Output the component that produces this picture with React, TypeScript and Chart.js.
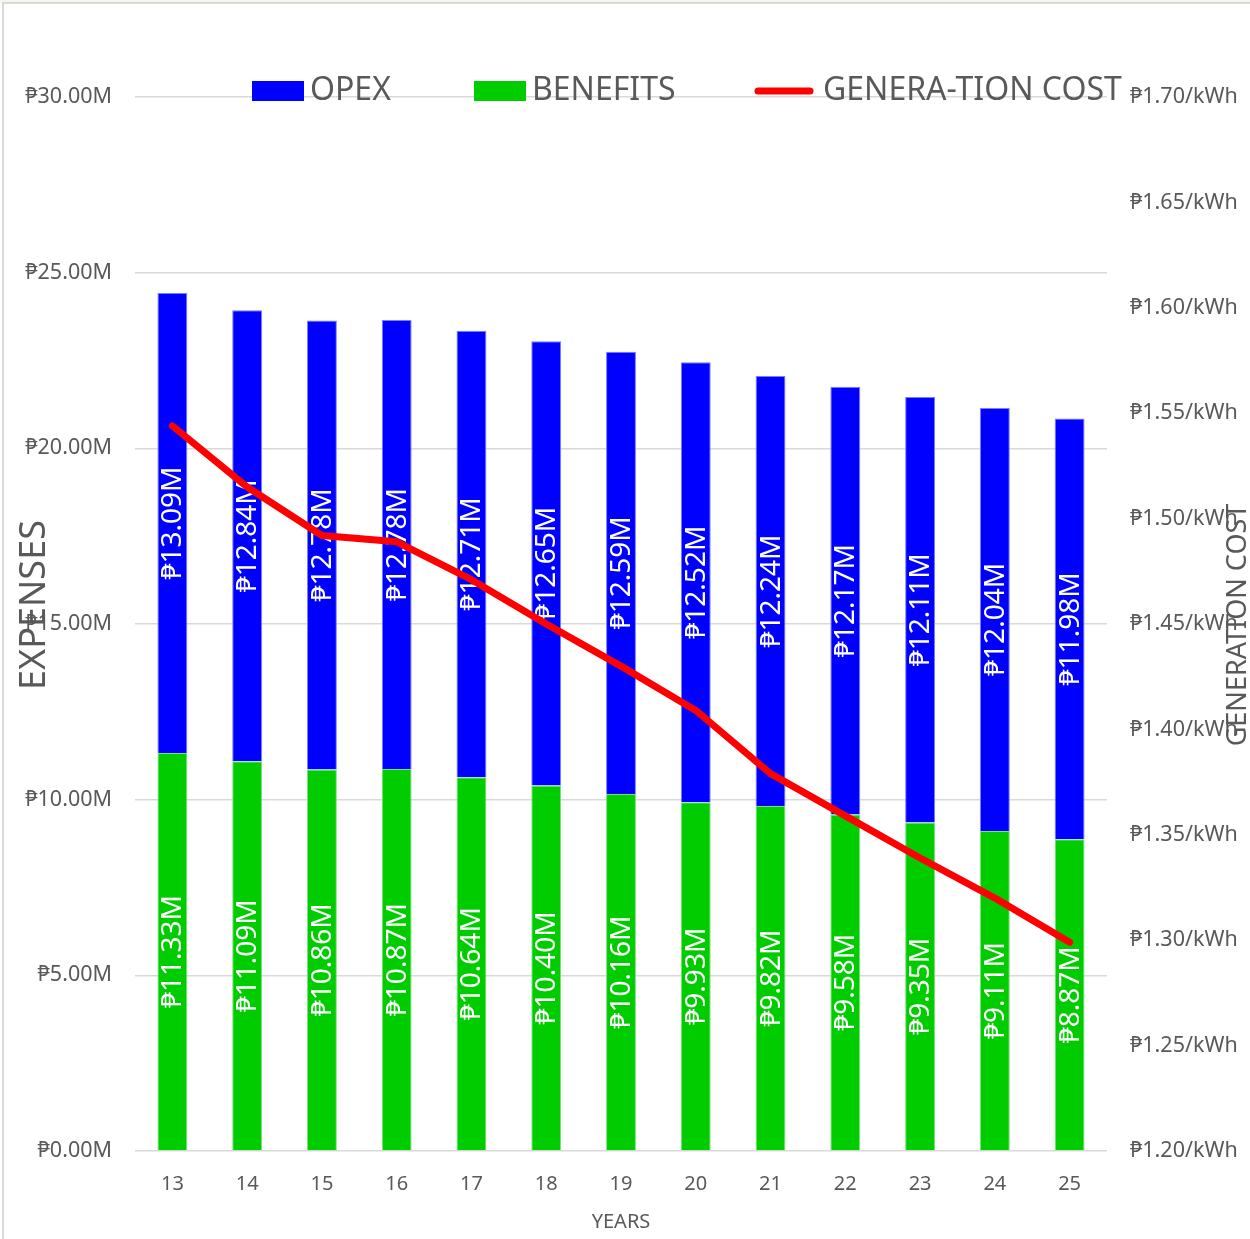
import React, { useEffect, useRef } from "react";
import { Chart, registerables } from "chart.js";

Chart.register(...registerables);

const years = ["13", "14", "15", "16", "17", "18", "19", "20", "21", "22", "23", "24", "25"];
const opex = [13.09, 12.84, 12.78, 12.78, 12.71, 12.65, 12.59, 12.52, 12.24, 12.17, 12.11, 12.04, 11.98];
const benefits = [11.33, 11.09, 10.86, 10.87, 10.64, 10.4, 10.16, 9.93, 9.82, 9.58, 9.35, 9.11, 8.87];
const generationCost = [1.544, 1.515, 1.492, 1.489, 1.471, 1.45, 1.43, 1.409, 1.379, 1.359, 1.339, 1.32, 1.299];

const FONT = "'Noto Sans', 'DejaVu Sans', sans-serif";
const GREY = "#595959";

const fmtM = (v: number) => "\u20B1" + v.toFixed(2) + "M";
const fmtKwh = (v: number) => "\u20B1" + v.toFixed(2) + "/kWh";

export default function App() {
  const ref = useRef<HTMLCanvasElement | null>(null);

  useEffect(() => {
    if (!ref.current) return;

    const decor = {
      id: "decor",
      beforeDraw(chart: any) {
        const ctx = chart.ctx;
        ctx.save();
        ctx.fillStyle = "#ffffff";
        ctx.fillRect(0, 0, chart.width, chart.height);
        ctx.fillStyle = "#f7f5ee";
        ctx.fillRect(0, 0, chart.width, 3);
        ctx.strokeStyle = "#d9d9d9";
        ctx.lineWidth = 2;
        ctx.beginPath();
        ctx.moveTo(3, chart.height);
        ctx.lineTo(3, 3);
        ctx.lineTo(chart.width, 3);
        ctx.stroke();
        ctx.restore();
      },
      afterDatasetDraw(chart: any, args: any) {
        const ds = chart.data.datasets[args.index];
        if (ds.type === "line") return;
        const ctx = chart.ctx;
        ctx.save();
        ctx.fillStyle = "#ffffff";
        ctx.font = "28px " + FONT;
        ctx.textAlign = "center";
        ctx.textBaseline = "middle";
        args.meta.data.forEach((el: any, i: number) => {
          const cy = (el.y + el.base) / 2;
          ctx.save();
          ctx.translate(el.x, cy);
          ctx.rotate(-Math.PI / 2);
          ctx.fillText(fmtM(ds.data[i]), 0, 1);
          ctx.restore();
        });
        ctx.restore();
      },
      afterDraw(chart: any) {
        const ctx = chart.ctx;
        const ca = chart.chartArea;
        ctx.save();
        ctx.fillStyle = GREY;
        ctx.textBaseline = "middle";
        // axis titles
        ctx.textAlign = "center";
        ctx.font = "36px " + FONT;
        ctx.save();
        ctx.translate(35, 605);
        ctx.rotate(-Math.PI / 2);
        ctx.fillText("EXPENSES", 0, 0);
        ctx.restore();
        ctx.font = "27px " + FONT;
        ctx.save();
        ctx.translate(1238, 625);
        ctx.rotate(-Math.PI / 2);
        ctx.fillText("GENERATION COST", 0, 0);
        ctx.restore();
        ctx.font = "20px " + FONT;
        ctx.fillText("YEARS", (ca.left + ca.right) / 2, 1222);
        // legend
        const ds = chart.data.datasets;
        const byLabel = (l: string) => ds.find((d: any) => d.label === l);
        const items = [
          { d: byLabel("OPEX"), x: 252 },
          { d: byLabel("BENEFITS"), x: 474 },
          { d: byLabel("GENERA-TION COST"), x: 755 },
        ];
        ctx.font = "32px " + FONT;
        ctx.textAlign = "left";
        items.forEach((it) => {
          if (it.d.type === "line") {
            ctx.strokeStyle = it.d.borderColor;
            ctx.lineWidth = 7;
            ctx.lineCap = "round";
            ctx.beginPath();
            ctx.moveTo(it.x + 3, 91);
            ctx.lineTo(it.x + 55, 91);
            ctx.stroke();
            ctx.fillStyle = GREY;
            ctx.fillText(it.d.label, it.x + 68, 91);
          } else {
            ctx.fillStyle = it.d.backgroundColor;
            ctx.fillRect(it.x, 81, 52, 20);
            ctx.fillStyle = GREY;
            ctx.fillText(it.d.label, it.x + 58, 91);
          }
        });
        ctx.restore();
      },
    };

    const chart = new Chart(ref.current, {
      type: "bar",
      data: {
        labels: years,
        datasets: [
          {
            type: "bar",
            label: "OPEX",
            data: opex,
            backgroundColor: "#0000ff",
            borderColor: "#7d7dff",
            borderWidth: 1,
            order: 2,
            yAxisID: "y",
          },
          {
            type: "bar",
            label: "BENEFITS",
            data: benefits,
            backgroundColor: "#00cc00",
            borderColor: "#7fe07f",
            borderWidth: 1,
            order: 1,
            yAxisID: "y",
          },
          {
            type: "line",
            label: "GENERA-TION COST",
            data: generationCost,
            borderColor: "#ff0000",
            borderWidth: 7,
            pointRadius: 0,
            borderCapStyle: "round",
            borderJoinStyle: "round",
            tension: 0,
            order: 0,
            yAxisID: "y1",
          },
        ] as any,
      },
      options: {
        responsive: false,
        animation: false,
        devicePixelRatio: 1,
        layout: { padding: { top: 97, left: 0, right: 0, bottom: 0 } },
        plugins: {
          legend: { display: false },
          tooltip: { enabled: false },
          title: { display: false },
        },
        datasets: {
          bar: { barPercentage: 0.4, categoryPercentage: 1 },
        },
        scales: {
          x: {
            stacked: true,
            grid: { display: false },
            border: { display: false },
            ticks: { color: GREY, font: { family: FONT, size: 20 }, padding: 13, maxRotation: 0 },
            afterFit(scale: any) {
              scale.height = 88;
            },
          },
          y: {
            stacked: true,
            position: "left",
            min: 0,
            max: 30,
            grid: { color: "#d9d9d9", lineWidth: 1.5, drawTicks: false },
            border: { display: false },
            ticks: {
              stepSize: 5,
              color: GREY,
              font: { family: FONT, size: 21.5 },
              padding: 23,
              callback: (v: any) => fmtM(Number(v)),
            },
            afterFit(scale: any) {
              scale.width = 135;
            },
          },
          y1: {
            position: "right",
            min: 1.2,
            max: 1.7,
            grid: { display: false, drawTicks: false },
            border: { display: false },
            ticks: {
              stepSize: 0.05,
              color: GREY,
              font: { family: FONT, size: 21.5 },
              padding: 23,
              callback: (v: any) => fmtKwh(Number(v)),
            },
            afterFit(scale: any) {
              scale.width = 143;
            },
          },
        },
      } as any,
      plugins: [decor],
    });

    return () => chart.destroy();
  }, []);

  return (
    <div style={{ position: "absolute", left: 0, top: 0, width: 1250, height: 1239 }}>
      <canvas ref={ref} width={1250} height={1239} style={{ display: "block" }} />
    </div>
  );
}
